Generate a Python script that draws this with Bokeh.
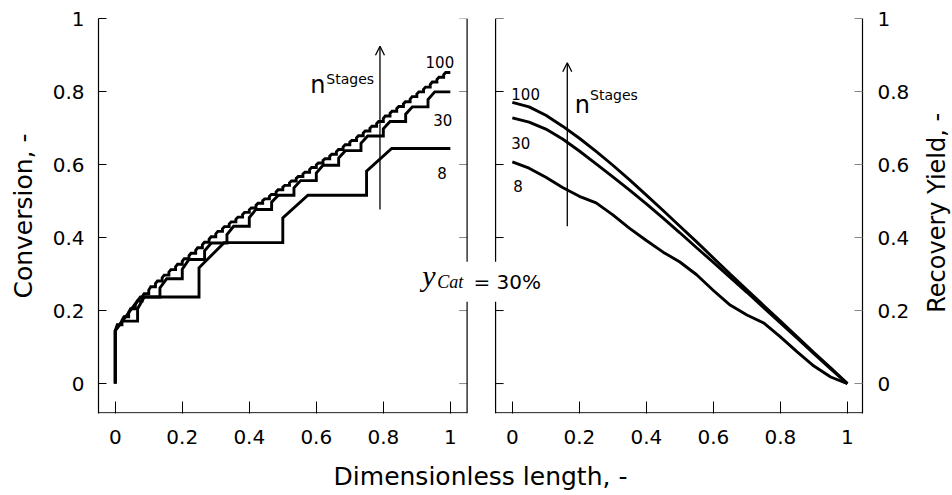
import math
from bokeh.plotting import figure
from bokeh.layouts import row
from bokeh.models import Range1d, LinearAxis, FixedTicker, Span, Label, Arrow, OpenHead
from bokeh.embed import file_html
from bokeh.resources import INLINE

# ---------------- data ----------------
tick_values = [0.0, 0.2, 0.4, 0.6, 0.8, 1.0]
tick_labels = ["0", "0.2", "0.4", "0.6", "0.8", "1"]
stage_counts = [8, 30, 100]
cat_fraction = 0.30          # y_Cat = 30 %

# Conversion profile: for each reactor/separator unit the level right after
# the step at its inlet (jump) and the level it reaches (flat)
conv_jump_8 = [0.145, 0.317, 0.454, 0.582]
conv_flat_8 = [0.237, 0.386, 0.516, 0.644]

conv_jump_30 = [0.145, 0.205, 0.262, 0.313, 0.364, 0.408, 0.455, 0.497,
                0.536, 0.577, 0.618, 0.658, 0.698, 0.738, 0.778]
conv_flat_30 = [0.171, 0.237, 0.287, 0.340, 0.385, 0.431, 0.477, 0.516,
                0.556, 0.598, 0.638, 0.678, 0.718, 0.758, 0.799]

conv_jump_100 = [0.145, 0.173, 0.195, 0.216, 0.237, 0.256, 0.274, 0.290, 0.305, 0.320,
                 0.335, 0.350, 0.365, 0.380, 0.395, 0.410, 0.424, 0.437, 0.450, 0.463,
                 0.476, 0.488, 0.501, 0.513, 0.525, 0.538, 0.550, 0.562, 0.574, 0.586,
                 0.599, 0.611, 0.623, 0.635, 0.648, 0.661, 0.673, 0.686, 0.699, 0.712,
                 0.726, 0.740, 0.753, 0.766, 0.779, 0.793, 0.806, 0.819, 0.833, 0.846]
conv_flat_100 = [0.161, 0.183, 0.205, 0.226, 0.246, 0.265, 0.281, 0.297, 0.312, 0.327,
                 0.342, 0.357, 0.372, 0.387, 0.402, 0.417, 0.430, 0.443, 0.456, 0.469,
                 0.481, 0.494, 0.506, 0.518, 0.531, 0.543, 0.555, 0.567, 0.579, 0.592,
                 0.604, 0.616, 0.628, 0.641, 0.654, 0.666, 0.679, 0.692, 0.705, 0.718,
                 0.733, 0.746, 0.759, 0.772, 0.786, 0.799, 0.812, 0.826, 0.839, 0.852]

# Recovery yield profile
length_grid = [0.0, 0.05, 0.1, 0.15, 0.2, 0.25, 0.3, 0.35, 0.4, 0.45, 0.5,
               0.55, 0.6, 0.65, 0.7, 0.75, 0.8, 0.85, 0.9, 0.95, 1.0]
yield_8 = [0.607, 0.590, 0.565, 0.537, 0.513, 0.495, 0.462, 0.425, 0.392, 0.360, 0.333,
           0.298, 0.255, 0.215, 0.188, 0.166, 0.128, 0.087, 0.048, 0.018, 0.0]
yield_30 = [0.728, 0.716, 0.697, 0.670, 0.637, 0.602, 0.566, 0.530, 0.492, 0.453, 0.413,
            0.372, 0.332, 0.291, 0.250, 0.208, 0.166, 0.124, 0.082, 0.040, 0.0]
yield_100 = [0.770, 0.758, 0.735, 0.705, 0.672, 0.636, 0.598, 0.558, 0.516, 0.474, 0.431,
             0.388, 0.344, 0.300, 0.257, 0.214, 0.171, 0.128, 0.085, 0.043, 0.0]

# ---------------- helpers ----------------
def staircase(jump, flat, frac):
    n = len(flat)
    period = 1.0 / n
    xs, ys = [0.0], [0.0]
    for k in range(n):
        x0 = k * period
        xs += [x0, x0 + frac * period, (k + 1) * period]
        ys += [jump[k], flat[k], flat[k]]
    return xs, ys

SANS = "DejaVu Sans"
SERIF = "Liberation Serif"
OFFSET = 1.185            # where the right panel's 0 sits on the shared x scale
X0, X1 = -0.05, 2.23
Y0, Y1 = -0.082, 1.0
SPINE_Y = -0.08
H = 494
W_MAIN, W_TITLE = 921, 30

p = figure(width=W_MAIN, height=H, x_range=Range1d(X0, X1), y_range=Range1d(Y0, Y1),
           x_axis_type=None, y_axis_type=None, output_backend="svg",
           toolbar_location=None, min_border_left=98, min_border_right=W_MAIN - 862,
           min_border_top=18, min_border_bottom=H - 413)
p.extra_x_ranges = {"r": Range1d(X0 - OFFSET, X1 - OFFSET)}
p.outline_line_color = None
p.background_fill_color = "white"
p.border_fill_color = "white"

# ---------------- axes ----------------
x_ticks = list(tick_values) + [round(OFFSET + t, 6) for t in tick_values]
x_over = {t: l for t, l in zip(x_ticks, tick_labels + tick_labels)}
xax = LinearAxis(ticker=FixedTicker(ticks=x_ticks), major_label_overrides=x_over,
                 axis_label="Dimensionless length, -")
xax.axis_line_color = None
xax.major_tick_in = 12
xax.major_tick_out = 0
xax.minor_tick_line_color = None
xax.major_tick_line_color = "black"
xax.major_label_standoff = 16
xax.major_label_text_font = SANS
xax.major_label_text_font_size = "20px"
xax.major_label_text_color = "black"
xax.axis_label_text_font = SANS
xax.axis_label_text_font_size = "25px"
xax.axis_label_text_font_style = "normal"
xax.axis_label_text_color = "black"
xax.axis_label_standoff = 15
p.add_layout(xax, "below")

y_over = {t: l for t, l in zip(tick_values, tick_labels)}
for side, label, tcol, std in (("left", "Conversion, -", "black", 14),
                               ("right", None, "#888888", 15)):
    ax = LinearAxis(ticker=FixedTicker(ticks=tick_values), major_label_overrides=y_over)
    if label:
        ax.axis_label = label
    ax.axis_line_color = "black"
    ax.axis_line_width = 1.2
    ax.major_tick_in = 8
    ax.major_tick_out = 0
    ax.major_tick_line_color = tcol
    ax.minor_tick_line_color = None
    ax.major_label_standoff = std
    ax.major_label_text_font = SANS
    ax.major_label_text_font_size = "20px"
    ax.major_label_text_color = "black"
    ax.axis_label_text_font = SANS
    ax.axis_label_text_font_size = "25px"
    ax.axis_label_text_font_style = "normal"
    ax.axis_label_text_color = "black"
    ax.axis_label_standoff = 12
    p.add_layout(ax, side)

# inner spines + bottom spines + inner ticks
p.add_layout(Span(location=1.05, dimension="height", line_color="black", line_width=1.2))
p.add_layout(Span(location=-0.05, dimension="height", line_color="black", line_width=1.2,
                  x_range_name="r"))
p.segment(x0=[-0.05], y0=[SPINE_Y], x1=[1.05], y1=[SPINE_Y], line_color="black", line_width=1.2)
p.segment(x0=[-0.05], y0=[SPINE_Y], x1=[1.1], y1=[SPINE_Y], line_color="black", line_width=1.2,
          x_range_name="r")
p.ray(x=[1.05] * len(tick_values), y=tick_values, length=8, length_units="screen",
      angle=math.pi, line_color="#888888", line_width=1)
p.ray(x=[-0.05] * len(tick_values), y=tick_values, length=8, length_units="screen",
      angle=0, line_color="black", line_width=1, x_range_name="r")

# ---------------- curves ----------------
for jump, flat in ((conv_jump_8, conv_flat_8), (conv_jump_30, conv_flat_30),
                   (conv_jump_100, conv_flat_100)):
    xs, ys = staircase(jump, flat, cat_fraction)
    p.line(xs, ys, line_color="black", line_width=2.9, line_join="miter")

for ys in (yield_8, yield_30, yield_100):
    p.line(length_grid, ys, line_color="black", line_width=2.9, x_range_name="r")

# ---------------- annotations ----------------
def lab(text, x, y, size, font=SANS, style="normal", rng="default", **kw):
    l = Label(x=x, y=y, text=text, text_font=font, text_font_size=size,
              text_font_style=style, text_color="black", text_baseline="alphabetic",
              x_range_name=rng, **kw)
    p.add_layout(l)
    return l

# left panel
for txt, x, y in (("100", 0.926, 0.880), ("30", 0.949, 0.723), ("8", 0.961, 0.578)):
    lab(txt, x, y, "15px")
lab("n", 0.582, 0.819, "24px")
lab("Stages", 0.630, 0.835, "14px")
p.add_layout(Arrow(end=OpenHead(size=9, line_width=1.3, line_color="black"),
                   x_start=0.79, y_start=0.477, x_end=0.79, y_end=0.924,
                   line_width=1.3, line_color="black"))

# right panel
for txt, x, y in (("100", -0.003, 0.792), ("30", -0.003, 0.660), ("8", 0.003, 0.540)):
    lab(txt, x, y, "15px", rng="r")
lab("n", 0.186, 0.764, "24px", rng="r")
lab("Stages", 0.232, 0.790, "14px", rng="r")
p.add_layout(Arrow(end=OpenHead(size=9, line_width=1.3, line_color="black"),
                   x_start=0.164, y_start=0.431, x_end=0.164, y_end=0.879,
                   line_width=1.3, line_color="black", x_range_name="r"))

# y_Cat = 30 %
lab("y", 0.916, 0.296, "30px", font=SERIF, style="italic")
lab("Cat", 0.961, 0.277, "18px", font=SERIF, style="italic")
lab("= 30%", 1.045, 0.279, "20px", background_fill_color="white", padding=8)

# ---------------- right-hand title (reads bottom to top) ----------------
q = figure(width=W_TITLE, height=H, x_range=Range1d(0, W_TITLE), y_range=Range1d(0, H),
           x_axis_type=None, y_axis_type=None, output_backend="svg",
           toolbar_location=None, min_border_left=0, min_border_right=0,
           min_border_top=0, min_border_bottom=0)
q.outline_line_color = None
q.add_layout(Label(x=W_TITLE / 2, y=H - 243, text="Recovery Yield, -", angle=math.pi / 2,
                   text_font=SANS, text_font_size="24px", text_color="black",
                   text_align="center", text_baseline="middle"))

open("out.html", "w").write(file_html(row(p, q), INLINE))
